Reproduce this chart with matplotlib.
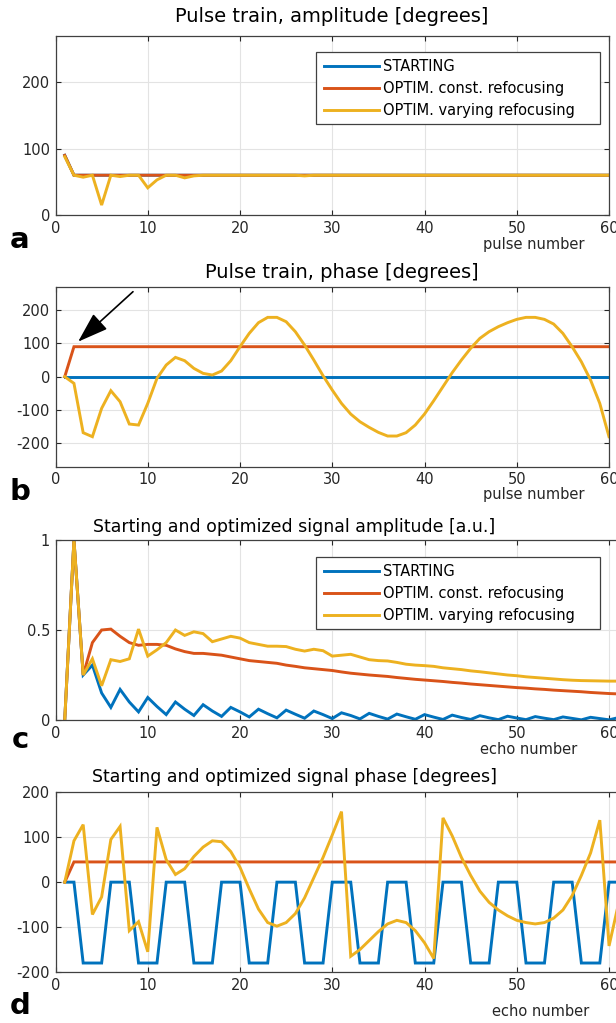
import numpy as np
import matplotlib
matplotlib.use('Agg')
import matplotlib.pyplot as plt
from matplotlib.patches import Rectangle

plt.rcParams['font.family'] = ['DejaVu Sans']
plt.rcParams['axes.unicode_minus'] = False

## DATA

pulse = np.arange(1, 61)
echo = np.arange(1, 62)

labels = ['STARTING', 'OPTIM. const. refocusing', 'OPTIM. varying refocusing']
colors = ['#0072BD', '#D95319', '#EDB120']

# panel a - pulse amplitude [deg]
amp_start = [90] + [60] * 59
amp_const = [90] + [60] * 59
amp_vary = [88, 60, 57, 60, 15, 60, 58, 60, 60, 41, 53, 60, 60, 56, 59] + [60] * 11 + [59] + [60] * 33

# panel b - pulse phase [deg]
ph_start = [0] * 60
ph_const = [0] + [90] * 59
ph_vary = [0, -20, -168, -180, -95, -42, -75, -142, -145, -80,
           -5, 35, 58, 48, 25, 10, 5, 17, 48, 90,
           130, 162, 178, 178, 165, 135, 95, 50, 3, -40,
           -80, -112, -135, -152, -167, -178, -178, -168, -145, -112,
           -72, -30, 12, 50, 85, 115, 135, 150, 162, 172,
           178, 178, 172, 158, 130, 90, 45, -10, -80, -180]

# panel c - signal amplitude [a.u.]
sig_start = [0, 1.0, 0.25, 0.305, 0.15, 0.07, 0.17, 0.1, 0.045, 0.125,
             0.075, 0.03, 0.1, 0.06, 0.025, 0.085, 0.05, 0.02, 0.07, 0.045,
             0.017, 0.06, 0.035, 0.012, 0.055, 0.032, 0.01, 0.05, 0.03, 0.008,
             0.04, 0.025, 0.006, 0.037, 0.02, 0.005, 0.033, 0.018, 0.004, 0.03,
             0.016, 0.003, 0.027, 0.014, 0.003, 0.024, 0.012, 0.002, 0.021, 0.011,
             0.002, 0.019, 0.01, 0.002, 0.017, 0.009, 0.001, 0.015, 0.008, 0.001, 0.013]
sig_const = [0, 1.0, 0.25, 0.43, 0.50, 0.505, 0.465, 0.43, 0.415, 0.42,
             0.42, 0.415, 0.395, 0.38, 0.37, 0.37, 0.365, 0.36, 0.35, 0.34,
             0.33, 0.325, 0.32, 0.315, 0.305, 0.298, 0.29, 0.285, 0.28, 0.275,
             0.267, 0.26, 0.255, 0.25, 0.246, 0.242, 0.236, 0.231, 0.226, 0.222,
             0.218, 0.214, 0.209, 0.205, 0.2, 0.196, 0.192, 0.188, 0.184, 0.18,
             0.177, 0.173, 0.17, 0.166, 0.163, 0.16, 0.157, 0.153, 0.15, 0.147, 0.145]
sig_vary = [0, 1.0, 0.25, 0.34, 0.19, 0.335, 0.325, 0.34, 0.505, 0.355,
            0.39, 0.43, 0.50, 0.47, 0.49, 0.48, 0.435, 0.45, 0.465, 0.455,
            0.43, 0.42, 0.41, 0.41, 0.408, 0.393, 0.383, 0.393, 0.385, 0.355,
            0.36, 0.365, 0.35, 0.335, 0.33, 0.328, 0.32, 0.31, 0.305, 0.302,
            0.298, 0.29, 0.285, 0.28, 0.273, 0.268, 0.262, 0.256, 0.25, 0.246,
            0.24, 0.236, 0.232, 0.228, 0.224, 0.221, 0.219, 0.218, 0.217, 0.216, 0.216]

# panel d - signal phase [deg]
sph_start = [0, 0, -180, -180, -180, 0, 0, 0, -180, -180,
             -180, 0, 0, 0, -180, -180, -180, 0, 0, 0,
             -180, -180, -180, 0, 0, 0, -180, -180, -180, 0,
             0, 0, -180, -180, -180, 0, 0, 0, -180, -180,
             -180, 0, 0, 0, -180, -180, -180, 0, 0, 0,
             -180, -180, -180, 0, 0, 0, -180, -180, -180, 0, 0]
sph_const = [0] + [45] * 60
sph_vary = [0, 92, 128, -72, -33, 95, 124, -108, -88, -155,
            122, 50, 17, 30, 57, 78, 92, 90, 68, 33,
            -15, -60, -90, -98, -90, -70, -35, 10, 55, 105,
            157, -165, -150, -130, -110, -93, -85, -90, -108, -135,
            -170, 143, 103, 55, 15, -20, -45, -62, -75, -85,
            -90, -93, -90, -80, -62, -30, 15, 65, 138, -142, -50]

W, H = 616, 1023
fig = plt.figure(figsize=(W / 100, H / 100), dpi=100)

def px_axes(left, top, right, bottom):
    # pixel box -> figure fraction
    return fig.add_axes([left / W, 1 - bottom / H, (right - left) / W, (bottom - top) / H])

def style(ax):
    ax.grid(True, color='#e3e3e3', lw=0.8)
    ax.set_axisbelow(True)
    for s in ax.spines.values():
        s.set_color('#404040')
        s.set_linewidth(0.9)
    ax.tick_params(direction='in', length=3.5, width=0.8, top=True, right=True,
                   labelsize=10.5, colors='#262626', pad=4)

def lines(ax, x, ys):
    for y, c, lab in zip(ys, colors, labels):
        ax.plot(x, y, color=c, lw=2.1, label=lab, solid_joinstyle='miter')

def legend(ax, left, top, right, bottom):
    # matlab style box: wide right margin, so frame drawn by hand
    box = Rectangle((left / W, 1 - bottom / H), (right - left) / W, (bottom - top) / H,
                    transform=fig.transFigure, facecolor='white', edgecolor='#404040',
                    lw=0.9, zorder=4.5, clip_on=False)
    ax.add_patch(box)
    ax.legend(loc='upper left', bbox_to_anchor=((left + 8.5) / W, 1 - (top + 7.5) / H),
              bbox_transform=fig.transFigure, fontsize=10.5, frameon=False,
              borderaxespad=0, borderpad=0, handlelength=3.8, handletextpad=0.25,
              labelspacing=0.48)

# a
ax1 = px_axes(55.5, 36, 609, 215)
lines(ax1, pulse, [amp_start, amp_const, amp_vary])
ax1.set_xlim(0, 60)
ax1.set_ylim(0, 270)
ax1.set_yticks([0, 100, 200])
ax1.set_xticks(range(0, 61, 10))
style(ax1)
legend(ax1, 315.5, 51.7, 600, 124.3)

# b
ax2 = px_axes(55.5, 286.7, 609, 466.7)
lines(ax2, pulse, [ph_start, ph_const, ph_vary])
ax2.set_xlim(0, 60)
ax2.set_ylim(-270, 270)
ax2.set_yticks([-200, -100, 0, 100, 200])
ax2.set_xticks(range(0, 61, 10))
style(ax2)
ax2.annotate('', xy=(2.45, 105), xytext=(8.4, 255),
             arrowprops=dict(arrowstyle='-|>,head_length=0.95,head_width=0.32', color='black',
                             lw=1.2, mutation_scale=20, shrinkA=0, shrinkB=0))

# c
ax3 = px_axes(55.5, 540, 627.5, 720)
lines(ax3, echo, [sig_start, sig_const, sig_vary])
ax3.set_xlim(0, 62)
ax3.set_ylim(0, 1)
ax3.set_yticks([0, 0.5, 1])
ax3.set_yticklabels(['0', '0.5', '1'])
ax3.set_xticks(range(0, 61, 10))
style(ax3)
legend(ax3, 315.5, 556.7, 600, 629.3)

# d
ax4 = px_axes(55.5, 792.3, 627.5, 972)
lines(ax4, echo, [sph_start, sph_const, sph_vary])
ax4.set_xlim(0, 62)
ax4.set_ylim(-200, 200)
ax4.set_yticks([-200, -100, 0, 100, 200])
ax4.set_xticks(range(0, 61, 10))
style(ax4)

# titles, axis labels, panel letters (pixel positions)
def ftext(x, y, s, **kw):
    fig.text(x / W, 1 - y / H, s, ha='center', va='center', **kw)

ftext(332, 17, 'Pulse train, amplitude [degrees]', fontsize=14)
ftext(342, 273, 'Pulse train, phase [degrees]', fontsize=14)
ftext(294, 527, 'Starting and optimized signal amplitude [a.u.]', fontsize=12.5)
ftext(295, 777, 'Starting and optimized signal phase [degrees]', fontsize=12.5)

ftext(534, 245, 'pulse number', fontsize=10.5, color='#262626')
ftext(534, 495, 'pulse number', fontsize=10.5, color='#262626')
ftext(529, 749, 'echo number', fontsize=10.5, color='#262626')
ftext(541, 1012, 'echo number', fontsize=10.5, color='#262626')

for lt, y in zip('abcd', [240, 492, 740, 1006]):
    ftext(20, y, lt, fontsize=21, fontweight='bold')

fig.savefig('out.png', dpi=100)
